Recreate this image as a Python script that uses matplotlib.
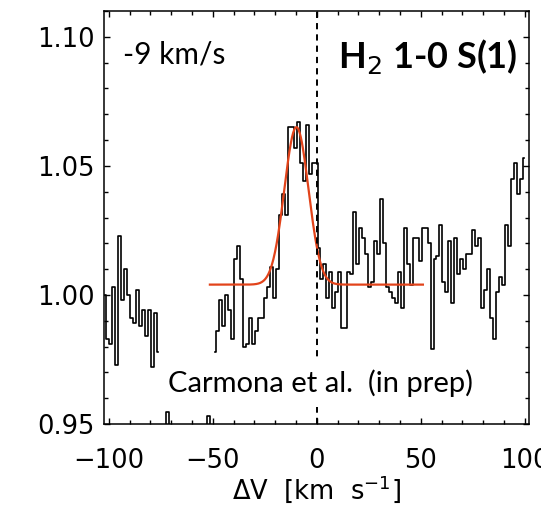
import numpy as np
import matplotlib.pyplot as plt
from matplotlib.patches import Rectangle
from matplotlib.ticker import MultipleLocator, FixedLocator

# spectrum, binned in velocity (km/s)
dv = 1.43
seg1_start = -102.0
seg1_flux = [1.000, 0.983, 0.981, 1.003, 0.973, 1.023, 0.998, 1.010, 1.000, 0.991,
             0.989, 1.002, 0.988, 0.994, 0.984, 0.994, 0.972, 0.993, 0.978]

seg2_start = -49.0
seg2_flux = [0.978, 0.986, 0.998, 0.988, 1.000, 0.994, 0.983, 1.014, 1.019, 1.006,
             0.980, 0.981, 0.991, 0.981, 0.986, 0.991, 0.991, 0.999, 1.003, 1.011,
             0.999, 1.010, 1.031, 1.039, 1.031, 1.065, 1.065, 1.057, 1.067, 1.051,
             1.044, 1.066, 1.047, 1.051, 1.051, 1.018, 1.006, 1.012, 0.999, 1.009,
             0.995, 1.001, 1.009, 0.987, 0.987, 1.009, 1.008, 1.032, 1.012, 1.026,
             1.022, 1.016, 1.003, 1.005, 1.021, 1.016, 1.037, 1.020, 1.003, 1.001,
             0.999, 0.997, 1.009, 0.995, 1.026, 1.012, 1.004, 1.022, 1.022, 1.013,
             1.026, 1.026, 1.020, 0.979, 1.014, 1.015, 1.027, 1.005, 1.001, 1.021,
             0.997, 1.022, 1.008, 1.014, 1.010, 1.016, 1.016, 1.025, 1.019, 1.022,
             0.995, 1.002, 1.010, 0.991, 0.983, 1.001, 1.007, 1.004, 1.027, 1.019,
             1.045, 1.051, 1.039, 1.045, 1.053]

# bits of the masked region that poke above the lower axis
gap_v = [-73.0, -71.6, -70.2, np.nan, -53.4, -52.0, -50.6]
gap_flux = [0.93, 0.9545, 0.93, np.nan, 0.93, 0.953, 0.93]

# gaussian fit
fit_base = 1.004
fit_amp = 0.061
fit_center = -9.8
fit_sigma = 5.8
fit_range = (-51.4, 51.0)

xticks = [-100, -50, 0, 50, 100]
yticks = [0.95, 1.00, 1.05, 1.10]

v1 = seg1_start + dv * np.arange(len(seg1_flux))
v2 = seg2_start + dv * np.arange(len(seg2_flux))
vfit = np.linspace(fit_range[0], fit_range[1], 400)
ffit = fit_base + fit_amp * np.exp(-(vfit - fit_center) ** 2 / (2 * fit_sigma ** 2))

fig = plt.figure(figsize=(5.58, 5.07), dpi=100)
ax = fig.add_axes([0.1864, 0.1637, 0.948 - 0.1864, 0.9783 - 0.1637])

lw = 1.2
ax.step(v1, seg1_flux, where='mid', color='black', lw=lw)
ax.step(v2, seg2_flux, where='mid', color='black', lw=lw)
ax.step(gap_v, gap_flux, where='mid', color='black', lw=lw)
ax.plot(vfit, ffit, color='#e2431a', lw=1.6)
ax.axvline(0, color='black', lw=1.4, ls=(0, (3.2, 2.6)))

ax.set_xlim(-102.3, 102.0)
ax.set_ylim(0.95, 1.11)

ax.xaxis.set_major_locator(FixedLocator(xticks))
ax.yaxis.set_major_locator(FixedLocator(yticks))
ax.xaxis.set_minor_locator(MultipleLocator(10))
ax.yaxis.set_minor_locator(MultipleLocator(0.01))
ax.set_xticklabels(['\u2212100', '\u221250', '0', '50', '100'])
ax.set_yticklabels(['0.95', '1.00', '1.05', '1.10'])

ax.tick_params(which='both', direction='in', top=True, right=True, width=1.0)
ax.tick_params(which='major', length=4, labelsize=18.5)
ax.tick_params(which='minor', length=3)
ax.tick_params(axis='x', which='major', pad=17)
ax.tick_params(axis='y', which='major', pad=7)
for s in ax.spines.values():
    s.set_linewidth(1.1)

ax.set_xlabel('\u0394V  [km  s$^{-1}$]', fontsize=18.5, labelpad=0)

ax.text(0.045, 0.895, '-9 km/s', transform=ax.transAxes, fontsize=21.5,
        family='Lato', va='center', ha='left')
ax.text(0.972, 0.89, 'H$_2$ 1-0 S(1)', transform=ax.transAxes, fontsize=26,
        family='Lato', fontweight='bold', va='center', ha='right')
ax.text(0.51, 0.099, 'Carmona et al.  (in prep)', transform=ax.transAxes,
        fontsize=21, family='Lato', va='center', ha='center', zorder=5,
        bbox=dict(facecolor='white', edgecolor='none', pad=7))

# the source image is cut just right of the last tick label
fig.patches.append(Rectangle((541 / 558, 0), 1, 1, transform=fig.transFigure,
                             facecolor='white', edgecolor='none', zorder=10))

fig.savefig('out.png', dpi=100)
